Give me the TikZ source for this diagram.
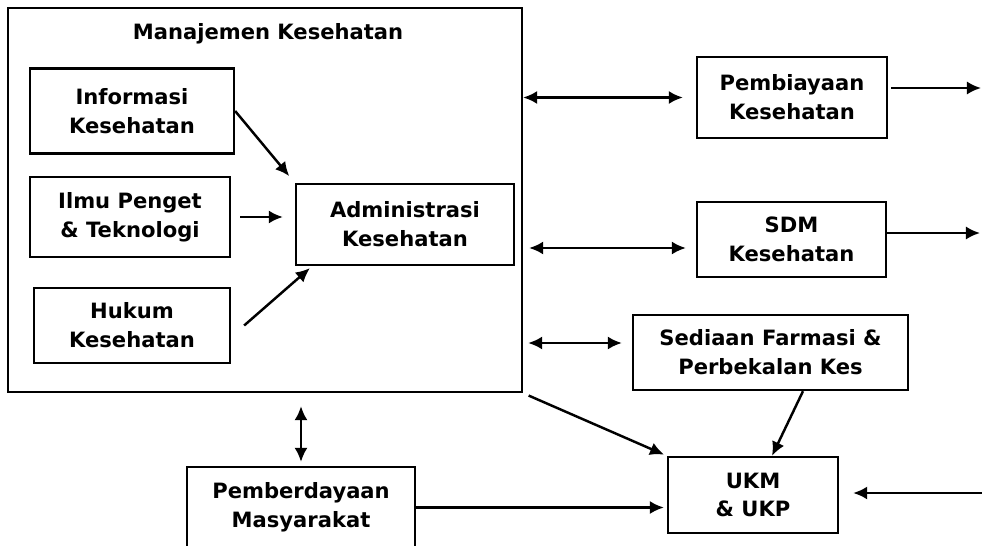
\documentclass[tikz,border=0pt]{standalone}
\usepackage{fontspec}
\setmainfont{DejaVu Sans}
\usetikzlibrary{arrows.meta}

\tikzset{
  kotak/.style={draw, line width=1.3pt, align=center, inner sep=0pt,
    font=\fontsize{12}{16.4}\selectfont\bfseries},
  panah/.style={line width=1.4pt}
}

\begin{document}
\begin{tikzpicture}[>={Latex[length=8pt,width=7.5pt]}]
\useasboundingbox (0,0) rectangle (19.64cm, 10.9cm);
%manajemen kesehatan
\node[kotak, minimum width=10.28cm, minimum height=7.68cm] (manajemen) at (5.3cm, 6.9cm) {};
\node[font=\fontsize{12}{16.4}\selectfont\bfseries] (judul) at (5.36cm, 10.22cm) {Manajemen Kesehatan};
\node[kotak, minimum width=4.08cm, minimum height=1.7cm] (info) at (2.64cm, 8.68cm) {Informasi\\Kesehatan};
\node[kotak, minimum width=4cm, minimum height=1.6cm] (ilmu) at (2.6cm, 6.56cm) {Ilmu Penget\\\& Teknologi};
\node[kotak, minimum width=3.92cm, minimum height=1.5cm] (hukum) at (2.64cm, 4.39cm) {Hukum\\Kesehatan};
\node[kotak, minimum width=4.36cm, minimum height=1.62cm] (admin) at (8.1cm, 6.41cm) {Administrasi\\Kesehatan};
%inputs to administrasi
\draw[->, panah, shorten >=5pt] (info.east) -- (admin.north west);
\draw[->, panah, shorten <=0.18cm, shorten >=0.24cm] (ilmu.east) -- (ilmu.east -| admin.west);
\draw[->, panah] ([xshift=0.26cm]hukum.east) -- ([xshift=0.3cm, yshift=-0.04cm]admin.south west);
%right column
\node[kotak, minimum width=3.8cm, minimum height=1.62cm] (biaya) at (15.84cm, 8.95cm) {Pembiayaan\\Kesehatan};
\node[kotak, minimum width=3.78cm, minimum height=1.5cm] (sdm) at (15.83cm, 6.11cm) {SDM\\Kesehatan};
\node[kotak, minimum width=5.5cm, minimum height=1.5cm] (farmasi) at (15.41cm, 3.85cm) {Sediaan Farmasi \&\\Perbekalan Kes};
\node[kotak, minimum width=3.4cm, minimum height=1.52cm] (ukm) at (15.06cm, 1cm) {UKM\\\& UKP};
\node[kotak, minimum width=4.56cm, minimum height=1.62cm] (berdaya) at (6.02cm, 0.75cm) {Pemberdayaan\\Masyarakat};
%free ends
\coordinate (keluarA) at (19.62cm, 9.14cm);
\coordinate (keluarB) at (19.6cm, 6.24cm);
\coordinate (masuk) at (19.64cm, 1.04cm);
%double arrows
\draw[<->, panah, shorten >=0.26cm] (biaya.west -| manajemen.east) -- (biaya.west);
\draw[<->, panah, shorten <=0.12cm, shorten >=0.2cm] ([yshift=-0.17cm]sdm.west -| manajemen.east) -- ([yshift=-0.17cm]sdm.west);
\draw[<->, panah, shorten <=0.1cm, shorten >=0.2cm] ([yshift=0.19cm]farmasi.west -| manajemen.east) -- ([yshift=0.19cm]farmasi.west);
\draw[<->, panah, shorten <=0.26cm, shorten >=0.08cm] (manajemen.south -| berdaya.north) -- (berdaya.north);
%outgoing
\draw[->, panah, shorten <=0.06cm] (biaya.east |- keluarA) -- (keluarA);
\draw[->, panah] (sdm.east |- keluarB) -- (keluarB);
%into ukm
\draw[->, panah, shorten <=0.12cm, shorten >=0.06cm] (manajemen.south east) -- (ukm.north west);
\draw[->, panah] ([xshift=0.65cm]farmasi.south) -- ([xshift=0.38cm]ukm.north);
\draw[->, panah, shorten >=0.06cm] (berdaya.east) -- (berdaya.east -| ukm.west);
\draw[->, panah, shorten >=0.28cm] (masuk) -- (masuk -| ukm.east);
\end{tikzpicture}
\end{document}
